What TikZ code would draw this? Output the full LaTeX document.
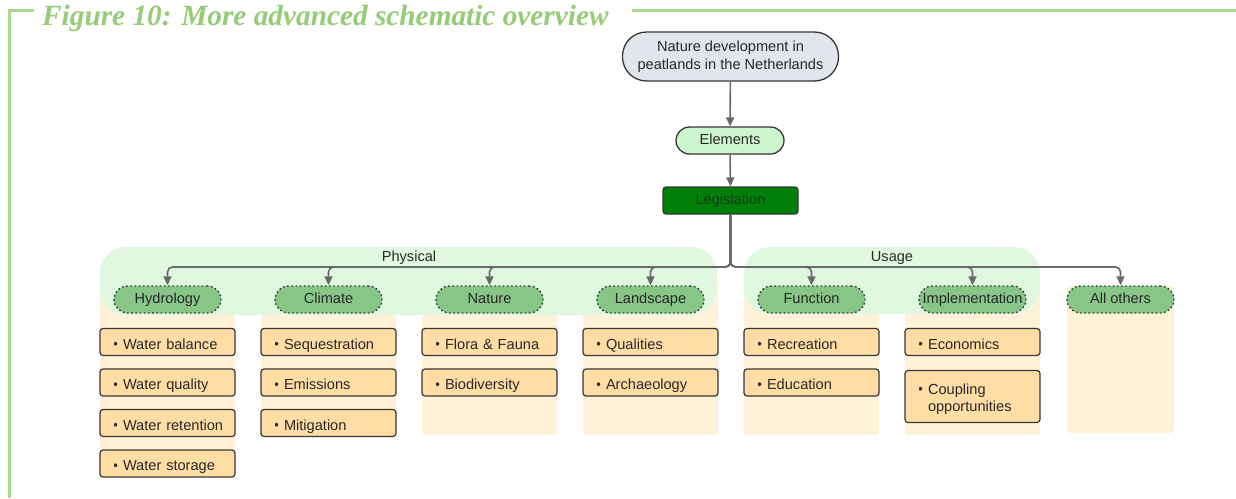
\documentclass[tikz,border=0pt]{standalone}
\usepackage{fontspec}
\setmainfont{Liberation Sans}
\newfontfamily\titlefont{Liberation Serif}
\usetikzlibrary{arrows.meta}

\definecolor{framegreen}{RGB}{170,214,146}
\definecolor{titlegreen}{RGB}{150,203,120}
\definecolor{txt}{RGB}{40,40,40}
\definecolor{edge}{RGB}{55,55,55}
\definecolor{rootfill}{RGB}{226,229,235}
\definecolor{elfill}{RGB}{204,246,206}
\definecolor{legfill}{RGB}{0,128,8}
\definecolor{legtxt}{RGB}{28,58,28}
\definecolor{groupfill}{RGB}{224,248,224}
\definecolor{catfill}{RGB}{135,198,135}
\definecolor{catline}{RGB}{45,60,45}
\definecolor{colfill}{RGB}{255,242,217}
\definecolor{itemfill}{RGB}{255,221,164}
\definecolor{conncol}{RGB}{105,105,105}

% small triangular bullet in front of each list entry
\newcommand\bul{\makebox[9pt][l]{\tikz[baseline=0pt]\fill[txt] (0pt,2pt) -- (0pt,8.6pt) -- (4.8pt,5.3pt) -- cycle;}}

\tikzset{
  frameline/.style={draw=framegreen, line width=3pt},
  rootbox/.style={draw=edge, fill=rootfill, line width=1.3pt, rounded corners=24pt,
    minimum width=216pt, minimum height=49pt, inner sep=0pt, align=center},
  elbox/.style={draw=edge, fill=elfill, line width=1.3pt, rounded corners=13.5pt,
    minimum width=108pt, minimum height=27pt, inner sep=0pt, text height=11pt, text depth=3pt},
  legbox/.style={draw=edge, fill=legfill, text=legtxt, line width=1.3pt, rounded corners=3pt,
    minimum width=135pt, minimum height=27pt, inner sep=0pt, text height=11pt, text depth=3pt},
  catbox/.style={draw=catline, fill=catfill, line width=1.4pt, dash pattern=on 1.6pt off 2.6pt,
    rounded corners=13.5pt, minimum width=107pt, minimum height=27pt, inner sep=0pt,
    text height=11pt, text depth=3pt},
  itembox/.style={draw=edge, fill=itemfill, line width=1.2pt, rounded corners=3pt,
    minimum width=135pt, minimum height=27pt, inner sep=0pt, text width=135pt, align=left,
    text height=15pt, text depth=1pt},
  conn/.style={draw=conncol, line width=1.6pt, rounded corners=5pt,
    -{Triangle[length=9pt,width=8pt]}},
  grouplabel/.style={inner sep=0pt, text height=11pt, text depth=3pt},
}

\begin{document}
\begin{tikzpicture}[x=1pt, y=-1pt, font=\fontsize{14.6}{17.5}\selectfont, text=txt]
\useasboundingbox (0,0) rectangle (1236,498);

% outer frame and heading
\draw[frameline] (34,10.5) -- (9,10.5) -- (9,498);
\draw[frameline] (632,10.5) -- (1236,10.5);
\node[anchor=base west, inner sep=0pt, text=titlegreen,
  font=\titlefont\bfseries\itshape\fontsize{29.3}{30}\selectfont] (title) at (42,25)
  {Figure 10: More advanced schematic overview};

% column backgrounds
\fill[colfill, rounded corners=3pt] (100,286) rectangle (235,450);
\foreach \x in {261,422,583,744,905}
  \fill[colfill, rounded corners=3pt] (\x,286) rectangle (\x+135,435);
\fill[colfill, rounded corners=3pt] (1067,286) rectangle (1174,433);

% group backgrounds
\fill[groupfill, rounded corners=26pt] (100,247) rectangle (717,315);
\fill[groupfill, rounded corners=26pt] (744,247) rectangle (1040,314);
\node[grouplabel] (physical) at (409,257) {Physical};
\node[grouplabel] (usage) at (892,257) {Usage};

% hierarchy head
\node[rootbox] (root) at (730.5,56.5) {Nature development in\\peatlands in the Netherlands};
\node[elbox] (elem) at (730,140.5) {Elements};
\node[legbox] (leg) at (730.5,200.5) {Legislation};
\draw[conn] (root) -- (elem);
\draw[conn] (elem) -- (leg);

% categories
\node[catbox] (hyd) at (167.5,299.5) {Hydrology};
\node[catbox] (cli) at (328.5,299.5) {Climate};
\node[catbox] (nat) at (489.5,299.5) {Nature};
\node[catbox] (lan) at (650.5,299.5) {Landscape};
\node[catbox] (fun) at (811.5,299.5) {Function};
\node[catbox] (imp) at (972.5,299.5) {Implementation};
\node[catbox] (oth) at (1120.5,299.5) {All others};

\coordinate (bus) at (730.5,267);
\foreach \c in {hyd,cli,nat,lan,fun,imp,oth}
  \draw[conn] (leg.south) -- (bus) -| (\c.north);

% list entries
\node[itembox] (hyd1) at (167.5,342)   {\hspace*{14pt}\bul Water balance};
\node[itembox] (hyd2) at (167.5,382.5) {\hspace*{14pt}\bul Water quality};
\node[itembox] (hyd3) at (167.5,423)   {\hspace*{14pt}\bul Water retention};
\node[itembox] (hyd4) at (167.5,463.5) {\hspace*{14pt}\bul Water storage};

\node[itembox] (cli1) at (328.5,342)   {\hspace*{14pt}\bul Sequestration};
\node[itembox] (cli2) at (328.5,382.5) {\hspace*{14pt}\bul Emissions};
\node[itembox] (cli3) at (328.5,423)   {\hspace*{14pt}\bul Mitigation};

\node[itembox] (nat1) at (489.5,342)   {\hspace*{14pt}\bul Flora \& Fauna};
\node[itembox] (nat2) at (489.5,382.5) {\hspace*{14pt}\bul Biodiversity};

\node[itembox] (lan1) at (650.5,342)   {\hspace*{14pt}\bul Qualities};
\node[itembox] (lan2) at (650.5,382.5) {\hspace*{14pt}\bul Archaeology};

\node[itembox] (fun1) at (811.5,342)   {\hspace*{14pt}\bul Recreation};
\node[itembox] (fun2) at (811.5,382.5) {\hspace*{14pt}\bul Education};

\node[itembox] (imp1) at (972.5,342)   {\hspace*{14pt}\bul Economics};
\node[itembox, minimum height=52pt, text height=12pt, text depth=17pt] (imp2) at (972.5,396.5)
  {\hspace*{14pt}\bul Coupling\\\hspace*{23pt}opportunities};
\end{tikzpicture}
\end{document}
